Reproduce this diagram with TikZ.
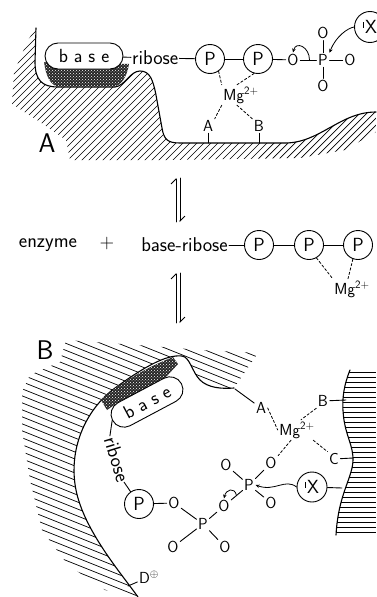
\documentclass[tikz,border=0pt]{standalone}
\usetikzlibrary{arrows.meta,calc,patterns}
\newcommand\nuc{\rule[0.3em]{0.6pt}{0.3em}\hspace{1.5pt}}
\begin{document}
\begin{tikzpicture}[x=1pt,y=-1pt,line cap=round,
  txt/.style={font=\fontsize{20}{23}\selectfont\sffamily,inner sep=1pt},
  atom/.style={font=\fontsize{16}{18}\selectfont\sffamily,inner sep=1.5pt},
  panel/.style={font=\fontsize{27}{30}\selectfont\sffamily,inner sep=0pt},
  pcirc/.style={draw,circle,line width=0.9pt,minimum size=29pt,inner sep=0pt,font=\fontsize{19}{22}\selectfont\sffamily},
  basebox/.style={draw,fill=white,rounded corners=13pt,line width=0.9pt,minimum width=78pt,minimum height=26pt,inner sep=0pt,font=\fontsize{19}{22}\selectfont\sffamily},
  bond/.style={line width=0.9pt},
  coord/.style={line width=0.8pt,dash pattern=on 2.5pt off 2pt},
  surf/.style={line width=1.1pt},
  hatch/.style={line width=0.7pt},
  dots/.style={fill=black!85,postaction={pattern=crosshatch dots,pattern color=white}},
  curly/.style={line width=0.8pt,-{Stealth[length=4pt,width=3.5pt]}},
  eqarr/.style={line width=0.8pt,-{Straight Barb[harpoon,length=5pt]}}]
  \useasboundingbox (0,0) rectangle (376,597);
  \def\surfA{(36,28) -- (35,62) .. controls (35,80) and (42,87) .. (58,87) -- (115,87) .. controls (125,86) and (130,71) .. (140,71) .. controls (150,71) and (153,80) .. (156,95) -- (162,128) .. controls (164,140) and (168,143) .. (180,143) -- (285,143) .. controls (320,143) and (340,112) .. (376,112)}
  \def\surfB{(138,597) .. controls (120,572) and (84,530) .. (76,490) .. controls (68,450) and (85,410) .. (115,388) .. controls (140,370) and (165,354) .. (182,356) .. controls (190,357) and (192,372) .. (200,380) .. controls (208,388) and (222,389) .. (234,388)}
  \def\surfC{(350,370) .. controls (344,385) and (341,400) .. (344,420) .. controls (347,440) and (356,450) .. (352,468) .. controls (348,485) and (338,500) .. (336,535)}

  % ---- A: open site
  \begin{scope}
    \clip \surfA -- (376,132) -- (345,150) -- (300,158) -- (170,160) -- (70,160) -- (66,140) -- (40,122) -- (12,104) -- (14,72) -- (28,40) -- cycle;
    \foreach \i in {-140,-133,...,380}
      \draw[hatch] (\i,200) -- ++(200,-200);
  \end{scope}
  \draw[surf] \surfA;
  \fill[dots] (44,62) .. controls (46,76) and (50,86) .. (60,87) -- (112,87) .. controls (122,86) and (127,76) .. (129,64) -- cycle;
  \node[basebox] (baseA) at (84,56) {b a s e};
  \node[panel] (labA) at (47,143) {A};

  \node[txt,anchor=west] (ribA) at (131,58) {ribose};
  \node[pcirc] (pA1) at (210,59) {P};
  \node[pcirc] (pA2) at (258,59) {P};
  \node[atom] (oA1) at (293,60) {O};
  \node[atom] (pA3) at (323,60) {P};
  \node[atom] (oA2) at (323,33) {O};
  \node[atom] (oA3) at (323,86) {O};
  \node[atom] (oA4) at (350,60) {O};
  \node[pcirc,minimum size=31pt] (xA) at (370,27) {\nuc X};
  \node[atom] (mgA) at (241,95) {Mg\textsuperscript{2+}};
  \node[atom] (aA) at (208,126) {A};
  \node[atom] (bA) at (259,126) {B};
  \coordinate (fA) at (208,143);
  \coordinate (fB) at (259,143);

  \draw[bond] (baseA) -- (ribA);
  \draw[bond] (ribA) -- (pA1);
  \draw[bond] (pA1) -- (pA2);
  \draw[bond] (pA2) -- (oA1);
  \draw[bond] (oA1) -- (pA3);
  \draw[bond] (pA3) -- (oA2);
  \draw[bond] (pA3) -- (oA3);
  \draw[bond] (pA3) -- (oA4);
  \draw[bond] (aA) -- (fA);
  \draw[bond] (bA) -- (fB);
  \draw[coord] (pA1.-55) -- (mgA.north west);
  \draw[coord] (pA2.-105) -- ([xshift=-4pt]mgA.north);
  \draw[coord] (mgA.south west) -- (aA.north east);
  \draw[coord] ([xshift=-4pt]mgA.south) -- (bA.north west);
  \draw[curly] ($(oA1)!0.55!(pA3)$) .. controls +(0,-13) and +(3,-12) .. (oA1.north);
  \draw[curly] (xA.west) .. controls (348,28) and (336,36) .. (pA3.north east);

  % ---- equilibrium
  \draw[eqarr] (176,222) -- (176,178);
  \draw[eqarr] (180,178) -- (180,222);
  \node[txt] (enz) at (48,245) {enzyme};
  \node[txt] (plus) at (107,244) {+};
  \node[txt,anchor=east] (br) at (229,245) {base-ribose};
  \node[pcirc] (pM1) at (259,245) {P};
  \node[pcirc] (pM2) at (309,245) {P};
  \node[pcirc] (pM3) at (358,245) {P};
  \node[atom] (mgM) at (352,289) {Mg\textsuperscript{2+}};
  \draw[bond] (br) -- (pM1);
  \draw[bond] (pM1) -- (pM2);
  \draw[bond] (pM2) -- (pM3);
  \draw[coord] (pM2.-60) -- (mgM.north west);
  \draw[coord] (pM3.-110) -- ([xshift=-4pt]mgM.north);
  \draw[eqarr] (176,323) -- (176,273);
  \draw[eqarr] (180,273) -- (180,323);

  % ---- B: closed site
  \begin{scope}
    \clip \surfB -- (258,353) -- (200,350) -- (150,346) -- (66,340) -- (60,362) -- (30,375) -- (22,392) -- (22,430) -- (30,480) -- (42,530) -- (68,565) -- (105,590) -- cycle;
    \foreach \y in {240,247,...,600}
      \draw[hatch] (0,\y) -- ++(400,160);
  \end{scope}
  \begin{scope}
    \clip \surfC -- (376,535) -- (376,370) -- cycle;
    \foreach \y in {372,377,...,535}
      \draw[hatch] (330,\y) -- (376,\y);
  \end{scope}
  \draw[surf] \surfB;
  \draw[surf] \surfC;
  \fill[dots] (101,400) .. controls (110,390) and (140,370) .. (173,357) -- (178,364) -- (165,378) -- (117,403) -- (107,410) -- cycle;
  \node[basebox,rotate=28] (baseB) at (147,402) {b a s e};
  \node[panel] (labB) at (45,350) {B};

  \node[txt,rotate=-73] (ribB) at (117,459) {ribose};
  \node[pcirc] (pB1) at (139,504) {P};
  \node[atom] (oB1) at (174,503) {O};
  \node[atom] (pB2) at (203,524) {P};
  \node[atom] (oB2) at (173,547) {O};
  \node[atom] (oB3) at (225,547) {O};
  \node[atom] (oB4) at (224,506) {O};
  \node[atom] (pB3) at (249,485) {P};
  \node[atom] (oB5) at (226,465) {O};
  \node[atom] (oB6) at (271,463) {O};
  \node[atom] (oB7) at (271,503) {O};
  \node[pcirc,minimum size=30pt] (xB) at (312,487) {\nuc X};
  \node[atom] (mgB) at (297,430) {Mg\textsuperscript{2+}};
  \node[atom] (aB) at (261,408) {A};
  \node[atom] (bB) at (323,401) {B};
  \node[atom] (cB) at (334,459) {C};
  \node[atom] (dB) at (149,577) {D\textsuperscript{$\oplus$}};
  \coordinate (wA) at (235,389);
  \coordinate (wB) at (346,400);
  \coordinate (wC) at (353,458);
  \coordinate (wX) at (342,488);
  \coordinate (wD) at (128,586);

  \draw[bond] (baseB.west) -- (ribB.west);
  \draw[bond] (ribB.east) -- (pB1);
  \draw[bond] (pB1) -- (oB1);
  \draw[bond] (oB1) -- (pB2);
  \draw[bond] (pB2) -- (oB2);
  \draw[bond] (pB2) -- (oB3);
  \draw[bond] (pB2) -- (oB4);
  \draw[bond] (oB4) -- (pB3);
  \draw[bond] (pB3) -- (oB5);
  \draw[bond] (pB3) -- (oB6);
  \draw[bond] (pB3) -- (oB7);
  \draw[bond] (aB) -- (wA);
  \draw[bond] (bB) -- (wB);
  \draw[bond] (cB) -- (wC);
  \draw[bond] (xB) -- (wX);
  \draw[bond] (dB) -- (wD);
  \draw[coord] (aB.east) -- (mgB.west);
  \draw[coord] (bB.south west) -- ([xshift=4pt]mgB.north);
  \draw[coord] ([xshift=-3pt]mgB.south east) -- (cB.north west);
  \draw[coord] ([xshift=-6pt]mgB.south) -- (oB6.north east);
  \draw[curly] ($(oB4)!0.5!(pB3)$) .. controls +(-2,-9) and +(2,-9) .. (oB4.north);
  \draw[curly] (xB.west) .. controls (285,478) and (275,492) .. (pB3.east);
\end{tikzpicture}
\end{document}
